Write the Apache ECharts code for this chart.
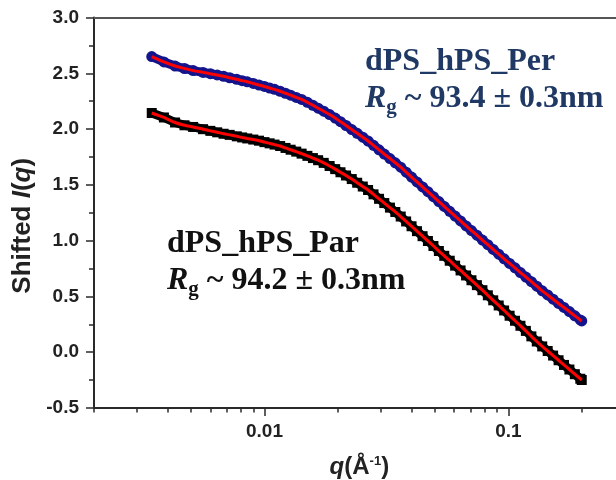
<!DOCTYPE html>
<html><head><meta charset="utf-8">
<script src="https://cdn.jsdelivr.net/npm/echarts@6/dist/echarts.min.js"></script>
<style>html,body{margin:0;padding:0;background:#fff}#c{width:616px;height:480px}</style>
</head><body><div id="c"></div>
<script>
// q values (Å^-1)
const q = [0.00345,0.00387,0.0043,0.0047,0.0051,0.0056,0.006,0.0064,0.0068,0.0072,0.0077,0.0081,0.0085,0.009,0.0095,0.01,0.0105,0.011,0.0116,0.0122,0.0128,0.0135,0.0142,0.015,0.0158,0.0166,0.0175,0.0185,0.0195,0.0205,0.0216,0.0228,0.024,0.0253,0.0266,0.028,0.0295,0.031,0.0327,0.0344,0.0362,0.0381,0.0401,0.0422,0.0445,0.0468,0.0493,0.0519,0.0546,0.0575,0.0605,0.0637,0.0671,0.0706,0.0743,0.0783,0.0824,0.0867,0.0913,0.0961,0.1012,0.1065,0.1121,0.118,0.1243,0.1308,0.1377,0.145,0.1526,0.1607,0.1691,0.178,0.1874,0.1973,0.2];
// dPS_hPS_Per (blue)
const iPer = [2.650,2.602,2.565,2.543,2.524,2.508,2.496,2.485,2.473,2.460,2.446,2.434,2.424,2.409,2.395,2.382,2.368,2.356,2.339,2.321,2.304,2.284,2.266,2.240,2.213,2.187,2.160,2.130,2.099,2.066,2.032,1.996,1.962,1.927,1.893,1.854,1.814,1.776,1.736,1.698,1.658,1.614,1.570,1.526,1.481,1.439,1.394,1.350,1.307,1.263,1.220,1.177,1.132,1.090,1.049,1.005,0.964,0.921,0.879,0.837,0.796,0.756,0.714,0.674,0.632,0.592,0.550,0.513,0.475,0.437,0.401,0.364,0.326,0.289,0.280];
// dPS_hPS_Par (black)
const iPar = [2.144,2.104,2.059,2.034,2.019,1.999,1.984,1.971,1.958,1.948,1.935,1.925,1.916,1.906,1.896,1.883,1.872,1.861,1.848,1.831,1.815,1.798,1.780,1.760,1.740,1.721,1.697,1.669,1.641,1.613,1.584,1.552,1.519,1.485,1.454,1.415,1.375,1.337,1.296,1.257,1.216,1.172,1.129,1.085,1.040,0.997,0.952,0.907,0.864,0.820,0.776,0.733,0.688,0.645,0.601,0.556,0.510,0.465,0.419,0.374,0.327,0.282,0.237,0.191,0.142,0.096,0.052,0.011,-0.030,-0.072,-0.114,-0.155,-0.197,-0.238,-0.249];
// axis ticks
const xMajorTicks = [0.01, 0.1];
const xMinorTicks = [0.002,0.003,0.004,0.005,0.006,0.007,0.008,0.009,0.02,0.03,0.04,0.05,0.06,0.07,0.08,0.09,0.2];
const xMin = 0.002, xMax = 0.3;
const yMin = -0.5, yMax = 3.0, yStep = 0.5;

const pair = (xs, ys) => xs.map((v, i) => [v, ys[i]]);
const AX = '#2a2a2a';
const SANS = 'Liberation Sans';
const SERIF = 'Liberation Serif';
const BLUE = '#14148c';
const NAVY_TXT = '#1f3864';

const chart = echarts.init(document.getElementById('c'), null, {renderer: 'canvas'});
chart.setOption({
  animation: false,
  backgroundColor: '#fff',
  grid: {left: 94, right: -8.7, top: 17.5, bottom: 72, containLabel: false, outerBoundsMode: 'none'},
  xAxis: [
    {
      type: 'log', logBase: 10, min: xMin, max: xMax, position: 'bottom',
      axisLine: {show: true, onZero: false, lineStyle: {color: AX, width: 2}},
      axisTick: {show: true, customValues: xMajorTicks, length: 8, inside: false, lineStyle: {color: AX, width: 1.5}},
      axisLabel: {show: true, customValues: xMajorTicks, margin: 14, fontFamily: SANS, fontWeight: 'bold', fontSize: 19, color: '#222',
        formatter: v => String(+(+v).toPrecision(3))},
      splitLine: {show: false},
      name: '{i|q}{n|(Å}{s|-1}{n|)}', nameLocation: 'middle', nameGap: 47,
      nameTextStyle: {rich: {
        i: {fontFamily: SANS, fontWeight: 'bold', fontStyle: 'italic', fontSize: 24, lineHeight: 24, color: '#222'},
        n: {fontFamily: SANS, fontWeight: 'bold', fontSize: 24, lineHeight: 24, color: '#222'},
        s: {fontFamily: SANS, fontWeight: 'bold', fontSize: 13, lineHeight: 13, verticalAlign: 'top', color: '#222'}
      }}
    },
    {
      type: 'log', logBase: 10, min: xMin, max: xMax, position: 'bottom',
      axisLine: {show: false, onZero: false},
      axisTick: {show: true, customValues: xMinorTicks, length: 4.5, lineStyle: {color: AX, width: 1.5}},
      axisLabel: {show: false}, splitLine: {show: false}
    },
    {
      type: 'log', logBase: 10, min: xMin, max: xMax, position: 'top',
      axisLine: {show: true, onZero: false, lineStyle: {color: '#555', width: 2}},
      axisTick: {show: false}, axisLabel: {show: false}, splitLine: {show: false}
    }
  ],
  yAxis: {
    type: 'value', min: yMin, max: yMax, interval: yStep, position: 'left',
    axisLine: {show: true, onZero: false, lineStyle: {color: AX, width: 2}},
    axisTick: {show: true, length: 8, lineStyle: {color: AX, width: 1.5}},
    minorTick: {show: true, splitNumber: 2, length: 5, lineStyle: {color: AX, width: 1.5}},
    axisLabel: {margin: 15, fontFamily: SANS, fontWeight: 'bold', fontSize: 19, color: '#222', formatter: v => v.toFixed(1)},
    splitLine: {show: false},
    name: '{n|Shifted }{i|I}{n|(}{i|q}{n|)}', nameLocation: 'middle', nameGap: 58, nameRotate: 90,
    nameTextStyle: {padding: [0, 26, 0, 0], rich: {
      n: {fontFamily: SANS, fontWeight: 'bold', fontSize: 26, lineHeight: 26, color: '#222'},
      i: {fontFamily: SANS, fontWeight: 'bold', fontStyle: 'italic', fontSize: 26, lineHeight: 26, color: '#222'}
    }}
  },
  series: [
    {type: 'line', name: 'dPS_hPS_Par', xAxisIndex: 0, z: 2, data: pair(q, iPar), symbol: 'rect', symbolSize: 10, showSymbol: true,
      lineStyle: {color: '#000', width: 9}, itemStyle: {color: '#000', borderWidth: 0}},
    {type: 'line', name: 'dPS_hPS_Per', xAxisIndex: 0, z: 2, data: pair(q, iPer), symbol: 'circle', symbolSize: 11, showSymbol: true,
      lineStyle: {color: BLUE, width: 9}, itemStyle: {color: BLUE, borderWidth: 0}},
    {type: 'line', name: 'fit Par', xAxisIndex: 0, z: 5, data: pair(q, iPar), showSymbol: false, smooth: 0.3,
      lineStyle: {color: '#ff0000', width: 3}},
    {type: 'line', name: 'fit Per', xAxisIndex: 0, z: 5, data: pair(q, iPer), showSymbol: false, smooth: 0.3,
      lineStyle: {color: '#ff0000', width: 3}}
  ],
  graphic: [
    {type: 'text', left: 365, top: 46, style: {text: 'dPS_hPS_Per', font: 'bold 32px "Liberation Serif"', fill: NAVY_TXT}},
    {type: 'text', left: 365, top: 83, style: {
      text: '{r|R}{g|g}{n| ~ 93.4 ± 0.3nm}', fill: NAVY_TXT,
      rich: {
        r: {fontFamily: SERIF, fontWeight: 'bold', fontStyle: 'italic', fontSize: 32, lineHeight: 38, fill: NAVY_TXT},
        g: {fontFamily: SERIF, fontWeight: 'bold', fontSize: 21, lineHeight: 19, verticalAlign: 'bottom', fill: NAVY_TXT},
        n: {fontFamily: SERIF, fontWeight: 'bold', fontSize: 32, lineHeight: 38, fill: NAVY_TXT}
      }}},
    {type: 'text', left: 167, top: 228, style: {text: 'dPS_hPS_Par', font: 'bold 32px "Liberation Serif"', fill: '#111'}},
    {type: 'text', left: 167, top: 265, style: {
      text: '{r|R}{g|g}{n| ~ 94.2 ± 0.3nm}', fill: '#111',
      rich: {
        r: {fontFamily: SERIF, fontWeight: 'bold', fontStyle: 'italic', fontSize: 32, lineHeight: 38, fill: '#111'},
        g: {fontFamily: SERIF, fontWeight: 'bold', fontSize: 21, lineHeight: 19, verticalAlign: 'bottom', fill: '#111'},
        n: {fontFamily: SERIF, fontWeight: 'bold', fontSize: 32, lineHeight: 38, fill: '#111'}
      }}}
  ]
});
</script></body></html>
